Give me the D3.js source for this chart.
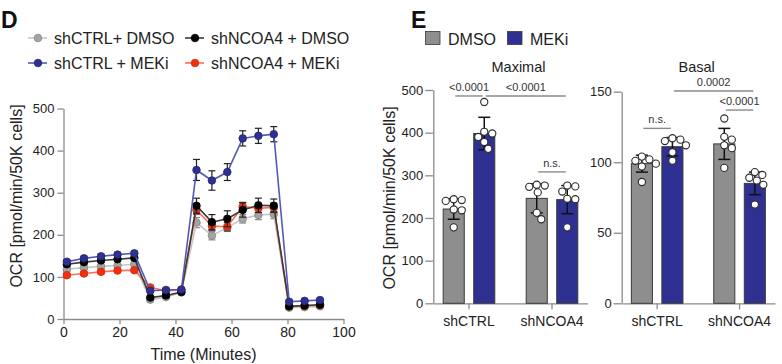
<!DOCTYPE html>
<html>
<head>
<meta charset="utf-8">
<script src="https://cdn.jsdelivr.net/npm/d3@7"></script>
<style>
  body { margin: 0; background: #fff; }
  svg { display: block; }
</style>
</head>
<body>
<svg id="viz" width="782" height="364"></svg>
<script>
// ---------- data: panel D (time course) ----------
const TIME = [1.2, 7.3, 13.4, 19.3, 25.3, 31.0, 36.6, 42.1, 47.5, 53.0, 58.5, 64.0, 69.6, 75.1, 80.6, 86.1, 91.6];

const OCR_CTRL_DMSO  = [118, 122, 125, 127, 130, 46, 52, 63, 229, 198, 217, 238, 247, 249, 27, 28, 30];
const OCR_CTRL_MEKI  = [136, 144, 149, 153, 156, 67, 69, 70, 354, 329, 349, 429, 435, 439, 41, 43, 45];
const OCR_NCOA_DMSO  = [130, 135, 139, 142, 145, 51, 56, 64, 269, 230, 238, 259, 270, 269, 30, 32, 34];
const OCR_NCOA_MEKI  = [104, 108, 112, 115, 116, 75, 67, 69, 259, 221, 219, 267, 263, 265, 30, 31, 33];

const SEM_CTRL_DMSO  = [4, 4, 4, 4, 4, 3, 3, 3, 12, 10, 8, 10, 11, 11, 3, 3, 3];
const SEM_CTRL_MEKI  = [5, 5, 5, 5, 5, 4, 4, 4, 25, 23, 20, 18, 18, 18, 3, 3, 3];
const SEM_NCOA_DMSO  = [4, 4, 4, 4, 4, 3, 3, 3, 18, 18, 19, 17, 17, 16, 3, 3, 3];
const SEM_NCOA_MEKI  = [4, 4, 4, 4, 4, 3, 3, 3, 10, 10, 10, 10, 10, 10, 3, 3, 3];

const X_TICKS_D = [0, 20, 40, 60, 80, 100];
const Y_TICKS_D = [0, 100, 200, 300, 400, 500];

// ---------- data: panel E (bars) ----------
const GROUPS = ["shCTRL", "shNCOA4"];
const TREAT  = ["DMSO", "MEKi"];
// order: shCTRL DMSO, shCTRL MEKi, shNCOA4 DMSO, shNCOA4 MEKi
const MAX_MEAN = [221, 398, 246, 243];
const MAX_SD   = [24, 38, 34, 33];
const MAX_DOTS = [
  [244, 242, 240, 220, 218, 178],
  [472, 402, 398, 390, 378, 362],
  [278, 276, 273, 260, 212, 197],
  [276, 274, 262, 245, 244, 178]
];
const BAS_MEAN = [99, 111, 113, 85];
const BAS_SD   = [6, 6.5, 11, 8];
const BAS_DOTS = [
  [104, 102, 101, 99, 97, 86],
  [117, 116, 115, 112, 107, 101],
  [131, 118, 116, 112, 110, 96],
  [93, 91, 89, 87, 84, 70]
];
const MAX_TICKS = [0, 100, 200, 300, 400, 500];
const BAS_TICKS = [0, 50, 100, 150];
const MAX_SIG = [
  {a: 0, b: 1, y: 486, label: "<0.0001"},
  {a: 1, b: 3, y: 486, label: "<0.0001"},
  {a: 2, b: 3, y: 308, label: "n.s."}
];
const BAS_SIG = [
  {a: 0, b: 1, y: 124, label: "n.s."},
  {a: 1, b: 3, y: 150.5, label: "0.0002"},
  {a: 2, b: 3, y: 137, label: "<0.0001"}
];

const FONT = "'Liberation Sans', Arial, Helvetica, sans-serif";
const AXIS_C = "#8c8c8c", TXT = "#222";
const C_GRAY = "#8e8e8e", C_BLUE = "#2e3192";

const svg = d3.select("#viz").attr("font-family", FONT);

function styleAxis(g, fs) {
  g.attr("font-family", FONT).attr("font-size", fs);
  g.select(".domain").attr("stroke", AXIS_C).attr("stroke-width", 1.3);
  g.selectAll(".tick line").attr("stroke", AXIS_C).attr("stroke-width", 1.3);
  g.selectAll(".tick text").attr("fill", TXT);
}

// panel letters
svg.append("text").attr("x", 1).attr("y", 28).attr("font-size", 23)
  .attr("font-weight", "bold").attr("fill", "#111").text("D");
svg.append("text").attr("x", 411).attr("y", 28).attr("font-size", 23)
  .attr("font-weight", "bold").attr("fill", "#111").text("E");

// ================= panel D =================
const xD = d3.scaleLinear().domain([0, 100]).range([63.5, 343.5]);
const yD = d3.scaleLinear().domain([0, 500]).range([319, 108.5]);

svg.append("g").attr("transform", `translate(0,${yD(0)})`)
  .call(d3.axisBottom(xD).tickValues(X_TICKS_D).tickSize(5).tickPadding(3).tickSizeOuter(0))
  .call(g => styleAxis(g, 14));
svg.append("g").attr("transform", `translate(${xD(0)},0)`)
  .call(d3.axisLeft(yD).tickValues(Y_TICKS_D).tickSize(6).tickPadding(3).tickSizeOuter(0))
  .call(g => styleAxis(g, 13));

svg.append("text").attr("x", (xD(0) + xD(100)) / 2).attr("y", 360)
  .attr("text-anchor", "middle").attr("font-size", 16).attr("fill", TXT)
  .text("Time (Minutes)");
svg.append("text").attr("transform", "translate(22,196) rotate(-90)")
  .attr("text-anchor", "middle").attr("font-size", 16).attr("fill", TXT)
  .text("OCR [pmol/min/50K cells]");

const seriesD = [
  {name: "shCTRL+ DMSO",   vals: OCR_CTRL_DMSO, sem: SEM_CTRL_DMSO, line: "#c6c6c6", fill: "#a4a4a4", stroke: "#858585", err: "#8a8a8a"},
  {name: "shNCOA4 + MEKi", vals: OCR_NCOA_MEKI, sem: SEM_NCOA_MEKI, line: "#ff6e55", fill: "#f2300f", stroke: "#d02a0c", err: "#333"},
  {name: "shNCOA4 + DMSO", vals: OCR_NCOA_DMSO, sem: SEM_NCOA_DMSO, line: "#3a3a3a", fill: "#000",    stroke: "#000",    err: "#222"},
  {name: "shCTRL + MEKi",  vals: OCR_CTRL_MEKI, sem: SEM_CTRL_MEKI, line: "#5559b5", fill: "#2e3192", stroke: "#23266f", err: "#222"}
];

const lineGen = d3.line().x(d => xD(d.t)).y(d => yD(d.v));

seriesD.forEach(s => {
  const pts = TIME.map((t, i) => ({t, v: s.vals[i], e: s.sem[i]}));
  const g = svg.append("g");
  const eb = g.selectAll("g.eb").data(pts).join("g").attr("stroke", s.err).attr("stroke-width", 1.2);
  eb.append("line").attr("x1", d => xD(d.t)).attr("x2", d => xD(d.t))
    .attr("y1", d => yD(d.v - d.e)).attr("y2", d => yD(d.v + d.e));
  eb.append("line").attr("x1", d => xD(d.t) - 3.5).attr("x2", d => xD(d.t) + 3.5)
    .attr("y1", d => yD(d.v + d.e)).attr("y2", d => yD(d.v + d.e));
  eb.append("line").attr("x1", d => xD(d.t) - 3.5).attr("x2", d => xD(d.t) + 3.5)
    .attr("y1", d => yD(d.v - d.e)).attr("y2", d => yD(d.v - d.e));
  g.append("path").datum(pts).attr("d", lineGen).attr("fill", "none")
    .attr("stroke", s.line).attr("stroke-width", 1.6);
  g.selectAll("circle").data(pts).join("circle")
    .attr("cx", d => xD(d.t)).attr("cy", d => yD(d.v)).attr("r", 3.8)
    .attr("fill", s.fill).attr("stroke", s.stroke).attr("stroke-width", 0.8);
});

// legend D
const legD = [
  {s: seriesD[0], x: 28,  y: 38},
  {s: seriesD[2], x: 185, y: 38},
  {s: seriesD[3], x: 28,  y: 63},
  {s: seriesD[1], x: 185, y: 63}
];
legD.forEach(l => {
  const g = svg.append("g").attr("transform", `translate(${l.x},${l.y})`);
  g.append("line").attr("x1", 0).attr("x2", 19).attr("stroke", l.s.line).attr("stroke-width", 1.6);
  g.append("circle").attr("cx", 10).attr("r", 3.8).attr("fill", l.s.fill)
    .attr("stroke", l.s.stroke).attr("stroke-width", 0.8);
  g.append("text").attr("x", 26).attr("y", 5.8).attr("font-size", 16).attr("fill", TXT).text(l.s.name);
});

// ================= panel E =================
function swarm(vals, y, r) {
  const placed = [];
  return vals.slice().sort((a, b) => b - a).map(v => {
    const py = y(v);
    let off = 0;
    for (let k = 0; k < 80; k++) {
      const cand = k === 0 ? 0 : (k % 2 ? 1 : -1) * Math.ceil(k / 2) * 0.5;
      if (placed.every(p => Math.hypot(p.dx - cand, p.py - py) >= 2 * r + 0.5)) { off = cand; break; }
    }
    const p = {v, py, dx: off};
    placed.push(p);
    return p;
  });
}

function barPanel(o) {
  const x0 = d3.scaleBand().domain(GROUPS).range([o.left, o.right]).paddingInner(0.2).paddingOuter(0.03);
  const half = 25.8;
  const x1 = d3.scaleBand().domain(TREAT)
    .range([x0.bandwidth() / 2 - half, x0.bandwidth() / 2 + half]).paddingInner(0.31);
  const y = d3.scaleLinear().domain([0, o.max]).range([303.3, o.top]);

  const rows = [];
  GROUPS.forEach((g, gi) => TREAT.forEach((t, ti) => {
    const i = gi * 2 + ti;
    rows.push({g, t, mean: o.mean[i], sd: o.sd[i], dots: o.dots[i],
      cx: x0(g) + x1(t) + x1.bandwidth() / 2, x: x0(g) + x1(t)});
  }));

  svg.append("g").attr("transform", `translate(0,${y(0)})`)
    .call(d3.axisBottom(x0).tickSize(6).tickPadding(7).tickSizeOuter(0))
    .call(g => styleAxis(g, 14));
  svg.append("g").attr("transform", `translate(${o.left},0)`)
    .call(d3.axisLeft(y).tickValues(o.ticks).tickSize(8).tickPadding(2).tickSizeOuter(0))
    .call(g => styleAxis(g, 13));

  // bars
  svg.append("g").selectAll("rect").data(rows).join("rect")
    .attr("x", d => d.x).attr("width", x1.bandwidth())
    .attr("y", d => y(d.mean)).attr("height", d => y(0) - y(d.mean))
    .attr("fill", d => d.t === "DMSO" ? C_GRAY : C_BLUE)
    .attr("stroke", "#3a3a3a").attr("stroke-width", 1);

  // error bars
  const eb = svg.append("g").selectAll("g").data(rows).join("g")
    .attr("stroke", "#111").attr("stroke-width", 1.5);
  eb.append("line").attr("x1", d => d.cx).attr("x2", d => d.cx)
    .attr("y1", d => y(d.mean - d.sd)).attr("y2", d => y(d.mean + d.sd));
  eb.append("line").attr("x1", d => d.cx - 6).attr("x2", d => d.cx + 6)
    .attr("y1", d => y(d.mean + d.sd)).attr("y2", d => y(d.mean + d.sd));
  eb.append("line").attr("x1", d => d.cx - 6).attr("x2", d => d.cx + 6)
    .attr("y1", d => y(d.mean - d.sd)).attr("y2", d => y(d.mean - d.sd));

  // replicate dots
  rows.forEach(d => {
    svg.append("g").selectAll("circle").data(swarm(d.dots, y, 3.6)).join("circle")
      .attr("cx", p => d.cx + p.dx).attr("cy", p => p.py).attr("r", 3.6)
      .attr("fill", "#fff").attr("stroke", "#2a2a2a").attr("stroke-width", 1.1);
  });

  // significance brackets
  o.sig.forEach(s => {
    const xa = rows[s.a].cx + 1.5, xb = rows[s.b].cx - 1.5, yy = y(s.y);
    svg.append("line").attr("x1", xa).attr("x2", xb).attr("y1", yy).attr("y2", yy)
      .attr("stroke", "#8a8a8a").attr("stroke-width", 1.4);
    svg.append("text").attr("x", (xa + xb) / 2).attr("y", yy - 5)
      .attr("text-anchor", "middle").attr("font-size", 11).attr("fill", "#333").text(s.label);
  });

  svg.append("text").attr("x", (o.left + o.right) / 2 + o.titleDx).attr("y", 71.5)
    .attr("text-anchor", "middle").attr("font-size", 14.5).attr("fill", TXT).text(o.title);
}

barPanel({left: 433.3, right: 587.7, max: 500, top: 90, ticks: MAX_TICKS,
  mean: MAX_MEAN, sd: MAX_SD, dots: MAX_DOTS, sig: MAX_SIG, title: "Maximal", titleDx: 8});
barPanel({left: 621.7, right: 775, max: 150, top: 91.7, ticks: BAS_TICKS,
  mean: BAS_MEAN, sd: BAS_SD, dots: BAS_DOTS, sig: BAS_SIG, title: "Basal", titleDx: -1.7});

svg.append("text").attr("transform", "translate(395,198) rotate(-90)")
  .attr("text-anchor", "middle").attr("font-size", 16).attr("fill", TXT)
  .text("OCR [pmol/min/50K cells]");

// legend E
[{t: "DMSO", c: C_GRAY, x: 425.5}, {t: "MEKi", c: C_BLUE, x: 507.5}].forEach(l => {
  svg.append("rect").attr("x", l.x).attr("y", 31.5).attr("width", 14.5).attr("height", 13)
    .attr("fill", l.c).attr("stroke", "#3a3a3a").attr("stroke-width", 0.8);
  svg.append("text").attr("x", l.x + 22.5).attr("y", 44.5).attr("font-size", 16)
    .attr("fill", TXT).text(l.t);
});
</script>
</body>
</html>
